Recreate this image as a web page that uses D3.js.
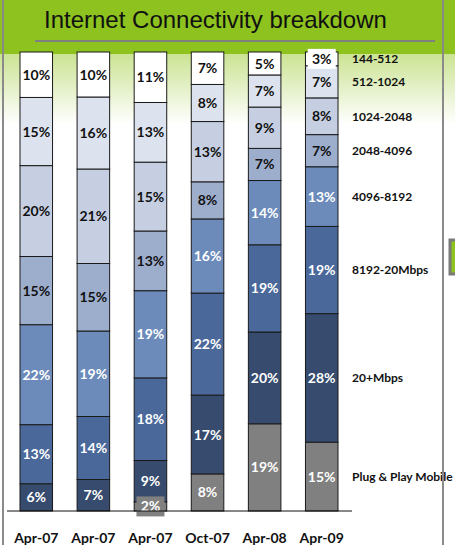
<!DOCTYPE html>
<html>
<head>
<meta charset="utf-8">
<script src="https://cdn.jsdelivr.net/npm/d3@7"></script>
<style>
  body { margin: 0; background: #fff; }
  svg { display: block; }
</style>
</head>
<body>
<script>
// survey dates (three separate Apr-07 columns in the source)
const categories = ["Apr-07", "Apr-07", "Apr-07", "Oct-07", "Apr-08", "Apr-09"];

// speed bands, bottom of the stack first
const bands = ["Plug & Play Mobile", "20+Mbps", "8192-20Mbps", "4096-8192",
               "2048-4096", "1024-2048", "512-1024", "144-512"];

// share per band (%) for each column
const plugPlay  = [0, 0, 2, 8, 19, 15];
const over20    = [6, 7, 9, 17, 20, 28];
const to20Mbps  = [13, 14, 18, 22, 19, 19];
const to8192    = [22, 19, 19, 16, 14, 13];
const to4096    = [15, 15, 13, 8, 7, 7];
const to2048    = [20, 21, 15, 13, 9, 8];
const to1024    = [15, 16, 13, 8, 7, 7];
const to512     = [10, 10, 11, 7, 5, 3];

const seriesValues = [plugPlay, over20, to20Mbps, to8192, to4096, to2048, to1024, to512];
const bandColors = ["#808080", "#364b6d", "#4a699a", "#6c8bbb", "#9daecd", "#c5cfe1", "#dde3ee", "#ffffff"];

const W = 455, H = 545;
const green = "#8dc21f";

const rows = categories.map((c, i) => {
  const r = { idx: i };
  bands.forEach((b, k) => { r[b] = seriesValues[k][i]; });
  return r;
});

const svg = d3.select("body").append("svg")
  .attr("width", W).attr("height", H);

// header band + fade
const defs = svg.append("defs");
const grad = defs.append("linearGradient").attr("id", "fade")
  .attr("x1", 0).attr("y1", 0).attr("x2", 0).attr("y2", 1);
grad.append("stop").attr("offset", "0%").attr("stop-color", "#cbe393");
grad.append("stop").attr("offset", "100%").attr("stop-color", "#ffffff");

svg.append("rect").attr("x", 0).attr("y", 0).attr("width", W).attr("height", 54).attr("fill", green);
svg.append("rect").attr("x", 0).attr("y", 54).attr("width", W).attr("height", 70).attr("fill", "url(#fade)");

svg.append("text")
  .attr("x", 44).attr("y", 28)
  .style("font-family", "'Liberation Sans', Arial, sans-serif")
  .style("font-size", "24px")
  .attr("fill", "#111")
  .text("Internet Connectivity breakdown");

svg.append("line")
  .attr("x1", 35).attr("x2", 435).attr("y1", 41).attr("y2", 41)
  .attr("stroke", "#808080").attr("stroke-width", 2);

// scales
const x = d3.scaleBand()
  .domain(categories.map((c, i) => i))
  .range([20, 338])
  .paddingInner(0.43)
  .paddingOuter(0);

const y = d3.scaleLinear().domain([0, 1]).range([511, 52]);

const stack = d3.stack().keys(bands).offset(d3.stackOffsetExpand);
const stacked = stack(rows);

const layers = svg.append("g").selectAll("g")
  .data(stacked)
  .join("g")
  .attr("fill", (d, k) => bandColors[k]);

layers.selectAll("rect")
  .data(d => d.filter(p => p[1] > p[0]))
  .join("rect")
  .attr("x", p => x(p.data.idx))
  .attr("y", p => y(p[1]))
  .attr("width", x.bandwidth())
  .attr("height", p => y(p[0]) - y(p[1]))
  .attr("stroke", "#1a1a1a")
  .attr("stroke-width", 1);

// segment labels
const labelFont = "Lato, 'Open Sans', sans-serif";
stacked.forEach((layer, k) => {
  layer.forEach(p => {
    const v = p.data[layer.key];
    if (!v) return;
    const cx = x(p.data.idx) + x.bandwidth() / 2;
    const cy = (y(p[0]) + y(p[1])) / 2;
    const h = y(p[0]) - y(p[1]);
    if (h < 16) {
      svg.append("rect")
        .attr("x", cx - 14).attr("y", cy - 10)
        .attr("width", 28).attr("height", 20)
        .attr("fill", bandColors[k]);
    }
    svg.append("text")
      .attr("x", cx).attr("y", cy)
      .attr("text-anchor", "middle")
      .attr("dy", "0.36em")
      .style("font-family", labelFont)
      .style("font-weight", "bold")
      .style("font-size", "14px")
      .attr("fill", k <= 3 ? "#ffffff" : "#111111")
      .text(v + "%");
  });
});

// x axis
const xAxis = d3.axisBottom(x).tickSize(0).tickPadding(22).tickFormat(i => categories[i]);
const ax = svg.append("g").attr("transform", "translate(0,511)").call(xAxis);
ax.select(".domain").remove();
ax.selectAll("text")
  .style("font-family", labelFont)
  .style("font-weight", "bold")
  .style("font-size", "14px")
  .attr("fill", "#111");
svg.append("line")
  .attr("x1", 7).attr("x2", 352).attr("y1", 511).attr("y2", 511)
  .attr("stroke", "#111").attr("stroke-width", 1);

// band names beside the last column
const last = categories.length - 1;
stacked.forEach(layer => {
  const p = layer[last];
  svg.append("text")
    .attr("x", 352)
    .attr("y", (y(p[0]) + y(p[1])) / 2)
    .attr("dy", "0.36em")
    .style("font-family", labelFont)
    .style("font-weight", "bold")
    .style("font-size", "12px")
    .attr("fill", "#111")
    .text(layer.key);
});

// slide frame lines
svg.append("line").attr("x1", 3).attr("x2", 3).attr("y1", 0).attr("y2", H)
  .attr("stroke", "#8a8a8a").attr("stroke-width", 2);
svg.append("line").attr("x1", 443).attr("x2", 443).attr("y1", 0).attr("y2", H)
  .attr("stroke", "#8a8a8a").attr("stroke-width", 2);

// edge of a neighbouring shape
svg.append("rect").attr("x", 450).attr("y", 240).attr("width", 10).attr("height", 34)
  .attr("fill", green).attr("stroke", "#7a7a7a").attr("stroke-width", 3);
</script>
</body>
</html>
